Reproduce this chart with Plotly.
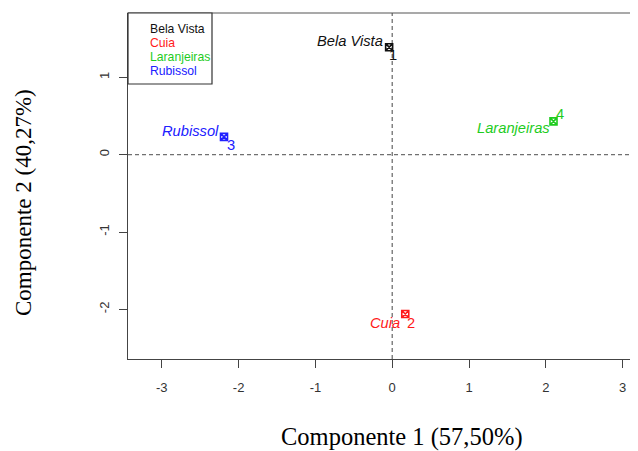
import plotly.graph_objects as go

# ---- data ----
sites = ["Bela Vista", "Cuia", "Laranjeiras", "Rubissol"]
ids = ["1", "2", "4", "3"]
pc1 = [-0.04, 0.17, 2.10, -2.19]
pc2 = [1.39, -2.06, 0.43, 0.23]
x_ticks = [-3, -2, -1, 0, 1, 2, 3]
y_ticks = [-2, -1, 0, 1]
x_title = "Componente 1 (57,50%)"
y_title = "Componente 2 (40,27%)"

# ---- styles ----
colors = ["#111111", "#ff1a1a", "#1ecc1e", "#2020ff"]
name_shift = [(-4, 6), (-3, -9), (-2, -7), (-3, 6)]
id_shift = [(4, -8), (6, -9), (6, 7), (7, -8)]

# page body has an 8px margin: figure is offset by it
OFF = 8
EXTRA = 10  # plot area extends beyond the right edge of the window
W, H = 510 + EXTRA, 346
L, T = 128 - OFF, 13 - OFF
FIG_W, FIG_H = 638 - OFF + EXTRA, 451 - OFF
X0 = -3.44
XSCALE = 6.64 / 510  # units per pixel
X1 = X0 + XSCALE * W

fig = go.Figure()
for i, s in enumerate(sites):
    fig.add_trace(go.Scatter(
        x=[pc1[i]], y=[pc2[i]], mode="markers", showlegend=False,
        marker=dict(symbol="square-x-open", size=7, color=colors[i],
                    line=dict(width=1.6, color=colors[i])),
        hoverinfo="skip"))
    fig.add_annotation(x=pc1[i], y=pc2[i], text="<i>" + s + "</i>", showarrow=False,
                       xanchor="right", yanchor="middle",
                       xshift=name_shift[i][0], yshift=name_shift[i][1],
                       font=dict(family="Liberation Sans", size=14.7, color=colors[i]))
    fig.add_annotation(x=pc1[i], y=pc2[i], text=ids[i], showarrow=False,
                       xanchor="center", yanchor="middle",
                       xshift=id_shift[i][0], yshift=id_shift[i][1],
                       font=dict(family="Liberation Sans", size=14.7, color=colors[i]))

# reference lines
fig.add_shape(type="line", xref="x", yref="paper", x0=0, x1=0, y0=0, y1=1,
              line=dict(color="#707070", width=1.3, dash="4px,3px"), layer="below")
fig.add_shape(type="line", xref="paper", yref="y", x0=0, x1=1, y0=0, y1=0,
              line=dict(color="#707070", width=1.3, dash="4px,3px"), layer="below")
# top frame line
fig.add_shape(type="line", xref="paper", yref="paper", x0=0, x1=1, y0=1, y1=1,
              line=dict(color="#555555", width=1.2))


def px_x(p):
    return (p - OFF - L) / W


def px_y(p):
    return (T + H - (p - OFF)) / H


# legend box
fig.add_shape(type="rect", xref="paper", yref="paper",
              x0=0, x1=px_x(212), y0=px_y(84), y1=1,
              line=dict(color="#333333", width=1.2), fillcolor="white")
for i, s in enumerate(sites):
    fig.add_annotation(xref="paper", yref="paper", x=px_x(148), y=px_y(29 + 14 * i),
                       text=s, showarrow=False, xanchor="left", yanchor="middle",
                       font=dict(family="Liberation Sans", size=12.2, color=colors[i]))

# axis titles
fig.add_annotation(xref="paper", yref="paper", x=px_x(402), y=0, yshift=-78,
                   text=x_title, showarrow=False, xanchor="center", yanchor="middle",
                   font=dict(family="Liberation Serif", size=24.5, color="black"))
fig.add_annotation(xref="paper", yref="paper", x=0, xshift=-105, y=px_y(203),
                   text=y_title, showarrow=False, xanchor="center", yanchor="middle",
                   textangle=-90,
                   font=dict(family="Liberation Serif", size=23, color="black"))

fig.update_xaxes(range=[X0, X1], tickvals=x_ticks, ticktext=[str(v) for v in x_ticks],
                 showgrid=False, zeroline=False, showline=True, linecolor="#444444",
                 linewidth=1.2, ticks="outside", ticklen=8, tickcolor="#444444",
                 tickfont=dict(family="Liberation Sans", size=13, color="#333333"),
                 ticklabelstandoff=8)
fig.update_yaxes(range=[-2.642, 1.832], tickvals=y_ticks, ticktext=[str(v) for v in y_ticks],
                 showgrid=False, zeroline=False, showline=True, linecolor="#444444",
                 linewidth=1.2, ticks="outside", ticklen=8, tickcolor="#444444",
                 tickangle=-90,
                 tickfont=dict(family="Liberation Sans", size=13, color="#333333"),
                 ticklabelstandoff=5)

fig.update_layout(width=FIG_W, height=FIG_H,
                  margin=dict(l=L, r=FIG_W - L - W, t=T, b=FIG_H - T - H),
                  plot_bgcolor="white", paper_bgcolor="white", showlegend=False)

fig.write_html("out.html")
